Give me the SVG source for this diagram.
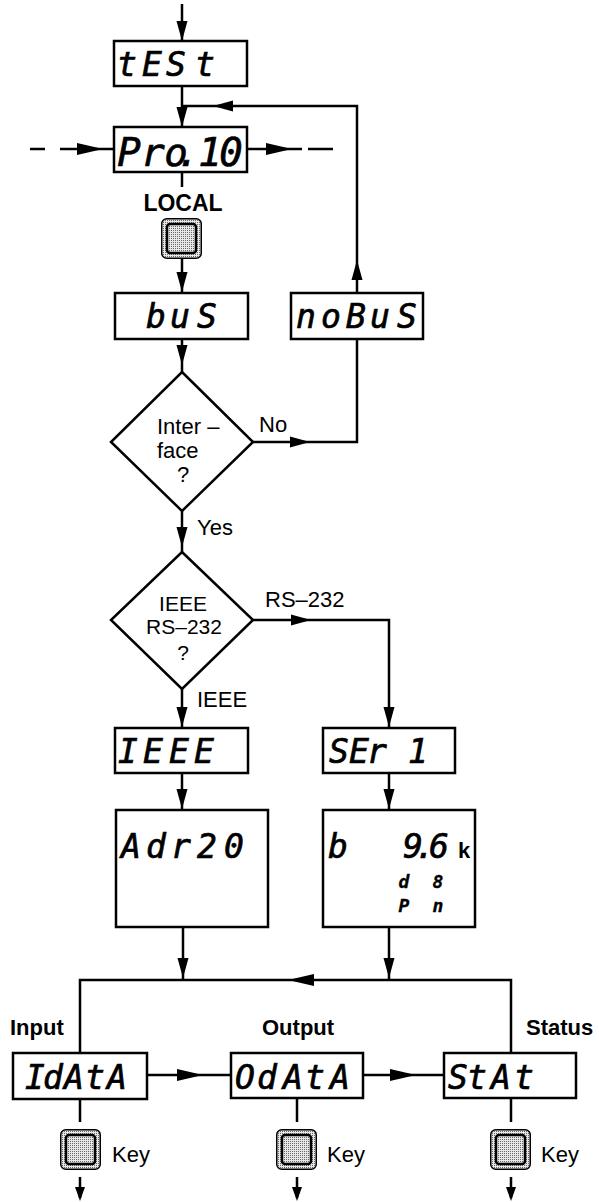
<svg xmlns="http://www.w3.org/2000/svg" xmlns:xlink="http://www.w3.org/1999/xlink" width="599" height="1202" viewBox="0 0 599 1202">
<style>
.box{fill:#fff;stroke:#000;stroke-width:2.5}
.ln{fill:none;stroke:#000;stroke-width:2.5}
.dia{fill:#fff;stroke:#000;stroke-width:2.5;stroke-linejoin:miter}
.seg{font-family:"DejaVu Sans Mono",monospace;font-style:oblique;font-size:33px;text-anchor:middle;fill:#000;stroke:#000;stroke-width:0.7}
.lbl{font-family:"Liberation Sans",Arial,sans-serif;font-size:22px;fill:#000}
.b{font-weight:bold}
.ah{fill:#000}
</style>
<defs>
<path id="ah" d="M0,0 L-20,-5.5 L-20,5.5 Z"/>
<path id="ahL" d="M0,0 L-26,-6 L-26,6 Z"/>
<path id="ahS" d="M0,0 L-14,-5 L-14,5 Z"/>
<pattern id="dots" width="2" height="2" patternUnits="userSpaceOnUse">
<rect width="2" height="2" fill="#e8e8e8"/><rect width="1" height="1" fill="#666"/>
</pattern>
<g id="keyShape">
<rect x="0.75" y="0.75" width="39.5" height="39.5" rx="5" fill="url(#dots)" stroke="#000" stroke-width="1.5"/>
<rect x="6" y="6" width="29" height="29" rx="3" fill="url(#dots)" stroke="#000" stroke-width="2.5"/>
</g>
</defs>
<rect width="599" height="1202" fill="#fff"/>

<g id="connectors">
<path class="ln" d="M182,4 V41"/>
<path class="ln" d="M182,86 V127"/>
<path class="ln" d="M357,293 V106 H182"/>
<path class="ln" d="M30,149 H45 M60,149 H114"/>
<path class="ln" d="M247,149 H302 M308,149 H333"/>
<path class="ln" d="M182,172 V187"/>
<path class="ln" d="M182,258 V293"/>
<path class="ln" d="M182,339 V372"/>
<path class="ln" d="M253,442 H357 V339"/>
<path class="ln" d="M182,511 V552"/>
<path class="ln" d="M253,620 H389 V728"/>
<path class="ln" d="M182,689 V728"/>
<path class="ln" d="M182,773 V810"/>
<path class="ln" d="M389,773 V810"/>
<path class="ln" d="M183,927 V980"/>
<path class="ln" d="M389,927 V980"/>
<path class="ln" d="M80,1053 V980 H511 V1053"/>
<path class="ln" d="M147,1075 H231"/>
<path class="ln" d="M363,1075 H444"/>
<path class="ln" d="M80,1099 V1122 M297,1098 V1122 M511,1098 V1122"/>
<path class="ln" d="M80,1177 V1198 M297,1177 V1198 M511,1177 V1198"/>
<use class="ah" href="#ah" transform="translate(182,41) rotate(90)"/>
<use class="ah" href="#ah" transform="translate(182,127) rotate(90)"/>
<use class="ah" href="#ah" transform="translate(357,260) rotate(-90)"/>
<use class="ah" href="#ah" transform="translate(213,106) rotate(180)"/>
<use class="ah" href="#ahL" transform="translate(103,149)"/>
<use class="ah" href="#ahL" transform="translate(292,149)"/>
<use class="ah" href="#ah" transform="translate(182,292) rotate(90)"/>
<use class="ah" href="#ah" transform="translate(182,365) rotate(90)"/>
<use class="ah" href="#ah" transform="translate(310,442)"/>
<use class="ah" href="#ah" transform="translate(182,547) rotate(90)"/>
<use class="ah" href="#ah" transform="translate(311,620)"/>
<use class="ah" href="#ah" transform="translate(389,727) rotate(90)"/>
<use class="ah" href="#ah" transform="translate(182,727) rotate(90)"/>
<use class="ah" href="#ah" transform="translate(182,809) rotate(90)"/>
<use class="ah" href="#ah" transform="translate(389,809) rotate(90)"/>
<use class="ah" href="#ah" transform="translate(183,978) rotate(90)"/>
<use class="ah" href="#ah" transform="translate(389,978) rotate(90)"/>
<use class="ah" href="#ahL" transform="translate(288,980) rotate(180)"/>
<use class="ah" href="#ahL" transform="translate(203,1075)"/>
<use class="ah" href="#ahL" transform="translate(416,1075)"/>
<use class="ah" href="#ahS" transform="translate(80,1201) rotate(90)"/>
<use class="ah" href="#ahS" transform="translate(297,1201) rotate(90)"/>
<use class="ah" href="#ahS" transform="translate(511,1201) rotate(90)"/>
</g>

<g id="node-test">
<rect class="box" x="114" y="41" width="133" height="45"/>
<text class="seg" x="127 152 176 205" y="76">tESt</text>
</g>
<g id="node-pro10">
<rect class="box" x="114" y="127" width="133" height="45"/>
<text class="seg" style="font-size:39px" x="129 153 176 188 210 231" y="166">Pro.10</text>
</g>
<g id="node-local">
<text class="lbl b" style="font-size:23px" x="183" y="211" text-anchor="middle">LOCAL</text>
<use href="#keyShape" x="161" y="218"/>
</g>
<g id="node-bus">
<rect class="box" x="115" y="293" width="133" height="46"/>
<text class="seg" x="156 180 207" y="328">buS</text>
</g>
<g id="node-nobus">
<rect class="box" x="291" y="293" width="132" height="46"/>
<text class="seg" x="306 331 356 380 407" y="328">noBuS</text>
</g>
<g id="node-interface">
<polygon class="dia" points="182,372 253,442 182,511 111,442"/>
<text class="lbl" x="157" y="434">Inter –</text>
<text class="lbl" x="157" y="458">face</text>
<text class="lbl" x="177" y="482">?</text>
</g>
<g id="label-no"><text class="lbl" x="259" y="432">No</text></g>
<g id="label-yes"><text class="lbl" x="197" y="535">Yes</text></g>
<g id="node-ieee-rs232">
<polygon class="dia" points="182,552 253,620 182,689 111,620"/>
<text class="lbl" style="font-size:21px" x="183" y="611" text-anchor="middle">IEEE</text>
<text class="lbl" style="font-size:21px" x="184" y="634" text-anchor="middle">RS–232</text>
<text class="lbl" style="font-size:21px" x="183" y="660" text-anchor="middle">?</text>
</g>
<g id="label-rs232"><text class="lbl" x="265" y="607">RS–232</text></g>
<g id="label-ieee"><text class="lbl" x="197" y="707">IEEE</text></g>
<g id="node-ieee">
<rect class="box" x="115" y="728" width="133" height="45"/>
<text class="seg" x="128 153 179 204" y="763">IEEE</text>
</g>
<g id="node-ser1">
<rect class="box" x="323" y="728" width="132" height="45"/>
<text class="seg" x="339 359 377 418" y="763">SEr1</text>
</g>
<g id="node-adr20">
<rect class="box" x="116" y="810" width="152" height="117"/>
<text class="seg" x="131 156 181 207 234" y="858">Adr20</text>
</g>
<g id="node-baud">
<rect class="box" x="323" y="810" width="152" height="117"/>
<text class="seg" x="338" y="858">b</text>
<text class="seg" x="413 425 439" y="858">9.6</text>
<text class="lbl b" x="458" y="858">k</text>
<text class="seg" style="font-size:18px;font-weight:bold;stroke-width:0.3" x="404 438" y="888">d8</text>
<text class="seg" style="font-size:18px;font-weight:bold;stroke-width:0.3" x="404 438" y="912">Pn</text>
</g>
<g id="label-input"><text class="lbl b" x="10" y="1035">Input</text></g>
<g id="label-output"><text class="lbl b" x="262" y="1035">Output</text></g>
<g id="label-status"><text class="lbl b" x="526" y="1035">Status</text></g>
<g id="node-idata">
<rect class="box" x="13" y="1053" width="134" height="46"/>
<text class="seg" x="35 53 74 95 117" y="1089">IdAtA</text>
</g>
<g id="node-odata">
<rect class="box" x="231" y="1053" width="132" height="45"/>
<text class="seg" x="245 267 293 315 340" y="1089">OdAtA</text>
</g>
<g id="node-stat">
<rect class="box" x="444" y="1053" width="132" height="45"/>
<text class="seg" x="458 477 501 524" y="1089">StAt</text>
</g>
<g id="node-key1">
<use href="#keyShape" x="60" y="1129"/>
<text class="lbl" x="112" y="1162">Key</text>
</g>
<g id="node-key2">
<use href="#keyShape" x="276" y="1129"/>
<text class="lbl" x="327" y="1162">Key</text>
</g>
<g id="node-key3">
<use href="#keyShape" x="490" y="1129"/>
<text class="lbl" x="541" y="1162">Key</text>
</g>
</svg>
